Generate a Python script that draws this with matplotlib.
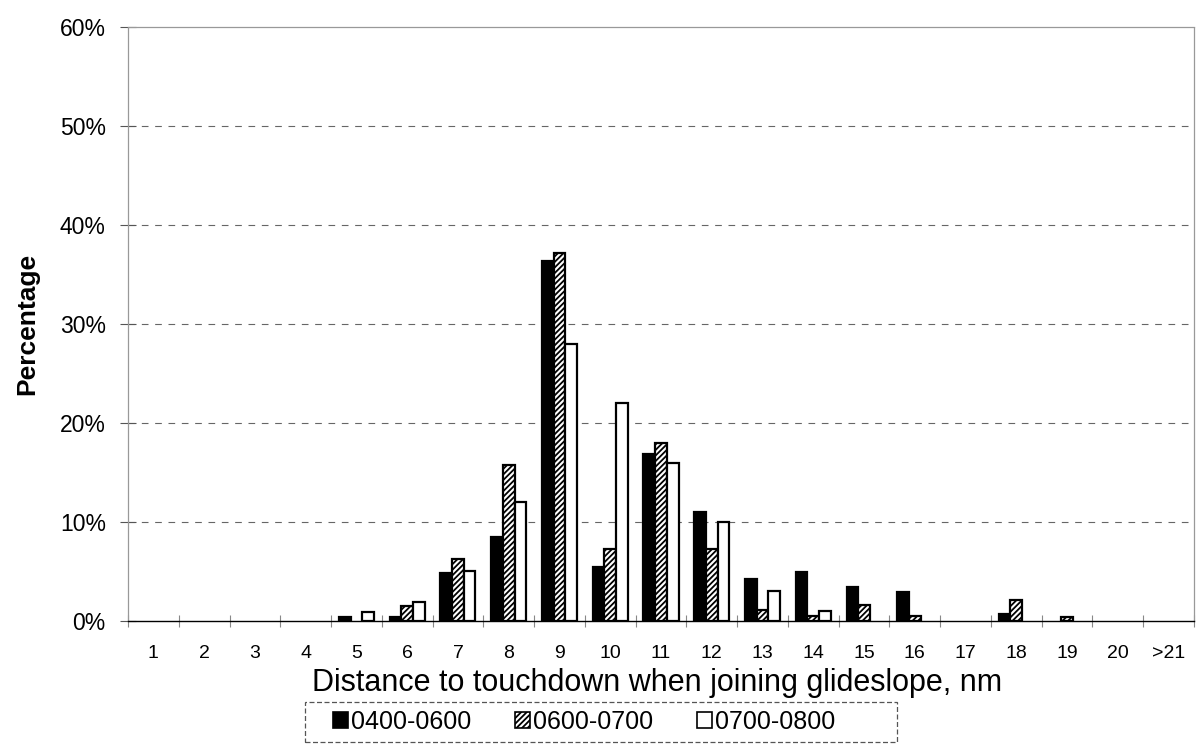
import matplotlib
matplotlib.use("Agg")
import matplotlib.pyplot as plt
from matplotlib.patches import Patch, Rectangle
import numpy as np

plt.rcParams['font.family'] = ['Liberation Sans', 'DejaVu Sans']
plt.rcParams['hatch.linewidth'] = 1.3

categories = ['1', '2', '3', '4', '5', '6', '7', '8', '9', '10', '11', '12',
              '13', '14', '15', '16', '17', '18', '19', '20', '>21']
s_0400_0600 = [0, 0, 0, 0, 0.4, 0.4, 4.8, 8.5, 36.4, 5.5, 16.9, 11.0,
               4.2, 5.0, 3.4, 2.9, 0, 0.7, 0, 0, 0]
s_0600_0700 = [0, 0, 0, 0, 0, 1.5, 6.3, 15.8, 37.2, 7.3, 18.0, 7.3,
               1.1, 0.5, 1.6, 0.5, 0, 2.1, 0.4, 0, 0]
s_0700_0800 = [0, 0, 0, 0, 0.9, 1.9, 5.1, 12.0, 28.0, 22.0, 16.0, 10.0,
               3.0, 1.0, 0, 0, 0, 0, 0, 0, 0]
series_names = ['0400-0600', '0600-0700', '0700-0800']
y_ticks = [0, 10, 20, 30, 40, 50, 60]

W, H = 1203, 750
L, R, T, B = 128, 1194, 27, 621
fig = plt.figure(figsize=(W / 100, H / 100), dpi=100)
ax = fig.add_axes([L / W, 1 - B / H, (R - L) / W, (B - T) / H])

x = np.arange(len(categories))
w = 0.23
styles = [dict(facecolor='black', hatch=None),
          dict(facecolor='white', hatch='//////'),
          dict(facecolor='white', hatch=None)]
data = [s_0400_0600, s_0600_0700, s_0700_0800]
handles = []
for i, (vals, st, name) in enumerate(zip(data, styles, series_names)):
    vals = np.array(vals, dtype=float)
    mask = vals > 0
    ax.bar(x[mask] + (i - 1) * w, vals[mask], width=w, facecolor=st['facecolor'],
           edgecolor='black', hatch=st['hatch'], linewidth=1.6, zorder=3)
    handles.append(Patch(facecolor=st['facecolor'], edgecolor='black',
                         hatch=st['hatch'], linewidth=1.2, label=name))

ax.set_xlim(-0.5, len(categories) - 0.5)
ax.set_ylim(0, 60)
ax.set_yticks(y_ticks)
ax.set_yticklabels([f"{v}%" for v in y_ticks], fontsize=16.5)
ax.set_xticks(x)
ax.set_xticklabels(categories, fontsize=14)
ax.tick_params(axis='x', length=0, pad=17)
ax.tick_params(axis='y', direction='inout', length=12, width=0.8, color='#555', pad=10)
ax.set_xticks(np.arange(-0.5, len(categories), 1), minor=True)
ax.tick_params(axis='x', which='minor', direction='inout', length=8, width=0.8,
               color='#888')

for y in y_ticks[1:-1]:
    ax.axhline(y, color='#666', linewidth=0.8, dashes=(6, 6), zorder=1)

for side in ['left', 'right', 'top']:
    ax.spines[side].set_color('#999')
    ax.spines[side].set_linewidth(0.9)
ax.spines['left'].set_linestyle((0, (1, 1)))
ax.spines['right'].set_linestyle((0, (1, 1)))
ax.spines['bottom'].set_color('black')
ax.spines['bottom'].set_linewidth(1.0)

ax.set_ylabel('Percentage', fontsize=19, fontweight='bold')
ax.yaxis.set_label_coords(-0.083, 0.5)
ax.set_xlabel('Distance to touchdown when joining glideslope, nm', fontsize=22)
ax.xaxis.set_label_coords(0.496, -0.079)

# legend box
fig.patches.append(Rectangle((305 / W, 1 - 742 / H), (897 - 305) / W, 40 / H,
                             transform=fig.transFigure, fill=False,
                             edgecolor='#555', linewidth=0.9,
                             linestyle=(0, (4, 2))))
leg = fig.legend(handles=handles, loc='center left',
                 bbox_to_anchor=(333 / W, 1 - 722 / H),
                 ncol=3, fontsize=18, frameon=False,
                 handlelength=0.6, handleheight=0.6, handletextpad=0.12,
                 columnspacing=1.75, borderpad=0, borderaxespad=0)

fig.savefig('out.png', dpi=100)
